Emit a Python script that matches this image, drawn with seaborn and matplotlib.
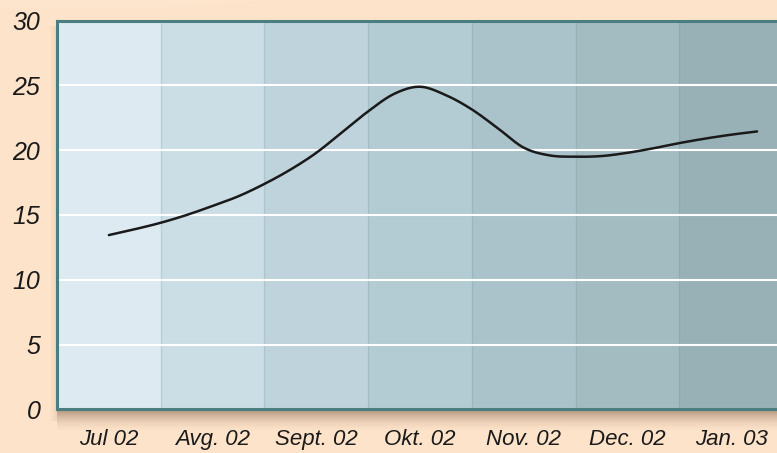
import numpy as np
import pandas as pd
import matplotlib
matplotlib.use("Agg")
import matplotlib.pyplot as plt
import seaborn as sns
from matplotlib.patches import Rectangle

# ---- data ----
months = ["Jul 02", "Avg. 02", "Sept. 02", "Okt. 02", "Nov. 02", "Dec. 02", "Jan. 03"]
# positions along the month axis (0 = Jul 02) at which the curve was read
positions = [0.0, 0.25, 0.5, 0.75, 1.0, 1.25, 1.5, 1.75, 2.0, 2.25, 2.5, 2.75, 3.0,
             3.25, 3.5, 3.75, 4.0, 4.25, 4.5, 4.75, 5.0, 5.25, 5.5, 5.75, 6.0, 6.25]
values = [13.45, 13.9, 14.4, 15.0, 15.7, 16.45, 17.4, 18.5, 19.8, 21.4, 23.0, 24.35, 24.9,
          24.25, 23.15, 21.7, 20.2, 19.6, 19.5, 19.55, 19.8, 20.15, 20.55, 20.9, 21.2, 21.45]
yticks = [0, 5, 10, 15, 20, 25, 30]
band_colors = ["#DDEAF1", "#CCDEE5", "#BFD3DD", "#B3CBD3", "#AAC3CA", "#A3BCC2", "#98B1B7"]


def catmull_rom(x, y, steps=12):
    """Smooth rendering of the read points (curve passes through every point)."""
    x = np.asarray(x, float)
    y = np.asarray(y, float)
    px = np.concatenate([[2 * x[0] - x[1]], x, [2 * x[-1] - x[-2]]])
    py = np.concatenate([[2 * y[0] - y[1]], y, [2 * y[-1] - y[-2]]])
    xs, ys = [], []
    t = np.linspace(0, 1, steps, endpoint=False)
    for i in range(1, len(px) - 2):
        for arr, out in ((px, xs), (py, ys)):
            p0, p1, p2, p3 = arr[i - 1], arr[i], arr[i + 1], arr[i + 2]
            out.extend(0.5 * (2 * p1 + (-p0 + p2) * t + (2 * p0 - 5 * p1 + 4 * p2 - p3) * t ** 2
                              + (-p0 + 3 * p1 - 3 * p2 + p3) * t ** 3))
    xs.append(x[-1])
    ys.append(y[-1])
    return np.array(xs), np.array(ys)


sx, sy = catmull_rom(positions, values)
df = pd.DataFrame({"pos": sx, "value": sy})

sns.set_theme(style="white")
plt.rcParams["font.family"] = ["Liberation Sans", "DejaVu Sans"]

W, H = 777, 453
fig = plt.figure(figsize=(W / 100, H / 100), dpi=100, facecolor="#FDE3C9")

# background layer for shadows
bg = fig.add_axes([0, 0, 1, 1], zorder=0)
bg.set_xlim(0, W)
bg.set_ylim(H, 0)
bg.axis("off")
bg.set_facecolor("#FDE3C9")
# light sheen at top-left of the background
for i in range(10):
    bg.add_patch(Rectangle((0, i * 1.2), 260 - i * 18, 1.3, color="white", alpha=0.10 * (1 - i / 10), lw=0))
# soft shadow below and left of the plot panel
n = 22
for i in range(n):
    a = 0.50 * (1 - i / n) ** 1.8
    bg.add_patch(Rectangle((57, 410 + i), W, 1.05, color="#6E5038", alpha=a, lw=0))
for i in range(7):
    a = 0.10 * (1 - i / 7)
    bg.add_patch(Rectangle((56 - i, 26), 1.05, 395, color="#6E5038", alpha=a, lw=0))

left, right, top, bottom = 57, 783, 20.7, 409.3
ax = fig.add_axes([left / W, (H - bottom) / H, (right - left) / W, (bottom - top) / H], zorder=1)

for i, c in enumerate(band_colors):
    ax.axvspan(i - 0.5, i + 0.5, color=c, lw=0, zorder=0)
for i in range(1, len(band_colors)):
    ax.axvline(i - 0.5, color="#6F8F95", alpha=0.22, lw=1, zorder=0.5)
for y in yticks[1:-1]:
    ax.axhline(y, color="white", lw=1.5, zorder=1)

sns.lineplot(data=df, x="pos", y="value", color="#1A1A1A", lw=1.8, ax=ax, zorder=3, sort=False)

ax.set_xlim(-0.5, 6.5)
ax.set_ylim(0, 30)
ax.set_xticks(range(len(months)))
ax.set_xticklabels(months, fontsize=16, fontstyle="italic", color="#1A1A1A")
ax.set_yticks(yticks)
ax.set_yticklabels([str(v) for v in yticks], fontsize=18, fontstyle="italic", color="#1A1A1A")
ax.tick_params(axis="x", length=0, pad=14)
ax.tick_params(axis="y", length=0, pad=12)
ax.set_xlabel("")
ax.set_ylabel("")
ax.grid(False)
for s in ["left", "top", "bottom"]:
    ax.spines[s].set_color("#4B7E80")
    ax.spines[s].set_linewidth(2.2)
ax.spines["right"].set_visible(False)

fig.savefig("out.png", dpi=100, facecolor=fig.get_facecolor())
